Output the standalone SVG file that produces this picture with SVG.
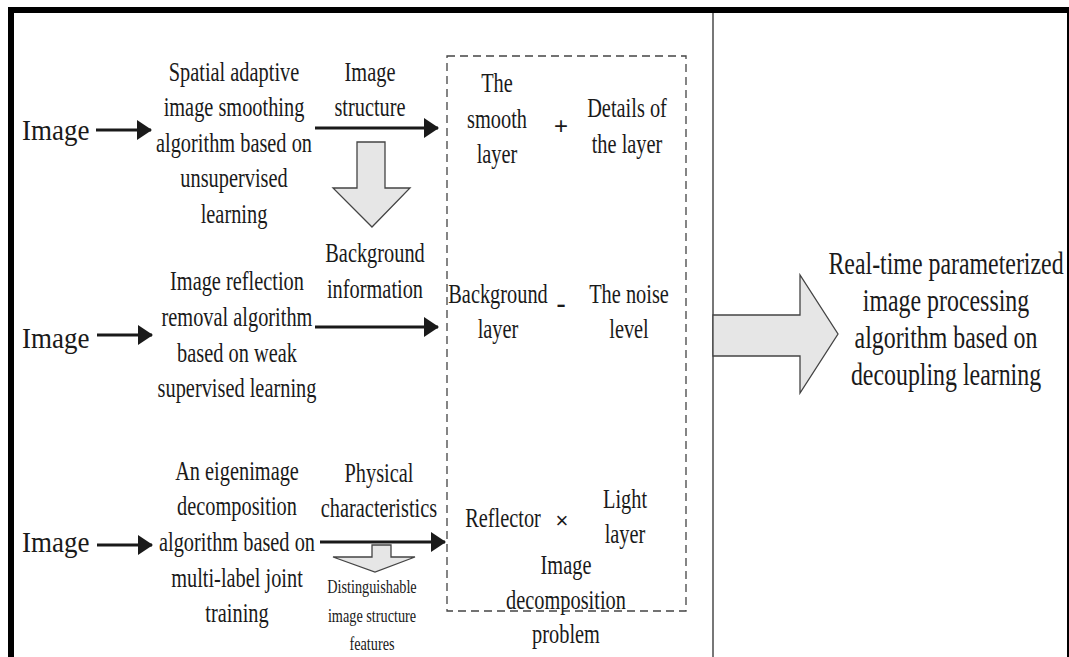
<svg xmlns="http://www.w3.org/2000/svg" width="1069" height="657" viewBox="0 0 1069 657">
<style>
.t{font-family:"Liberation Serif","Times New Roman",serif;font-size:27.5px;fill:#1a1a1a;text-anchor:middle}
.img{font-family:"Liberation Serif","Times New Roman",serif;font-size:30px;fill:#1a1a1a}
.big{font-family:"Liberation Serif","Times New Roman",serif;font-size:31px;fill:#1a1a1a;text-anchor:middle}
.sm{font-family:"Liberation Serif","Times New Roman",serif;font-size:19px;fill:#1a1a1a;text-anchor:middle}
.op{font-family:"Liberation Sans",Arial,sans-serif;font-size:22px;fill:#1a1a1a;text-anchor:middle}
.ln{stroke:#1a1a1a;stroke-width:3;fill:none}
.fat{fill:#e6e6e6;stroke:#444;stroke-width:1.3}
</style>
<defs>
<marker id="ah" markerUnits="userSpaceOnUse" markerWidth="15" markerHeight="20" refX="14" refY="10" orient="auto">
<path d="M0,0 L15,10 L0,20 Z" fill="#1a1a1a"/>
</marker>
</defs>
<rect width="1069" height="657" fill="#fff"/>
<g id="frame">
<rect x="8" y="7" width="1061" height="6" fill="#000"/>
<rect x="8" y="7" width="6" height="650" fill="#000"/>
<rect x="1067" y="7" width="2" height="650" fill="#000"/>
<rect x="712" y="13" width="2" height="644" fill="#777"/>
</g>
<g id="connectors">
<path class="ln" d="M96,130 H151" marker-end="url(#ah)"/>
<path class="ln" d="M97,335 H152" marker-end="url(#ah)"/>
<path class="ln" d="M97,545 H152" marker-end="url(#ah)"/>
<path class="ln" d="M315,128 H438" marker-end="url(#ah)"/>
<path class="ln" d="M315,327 H438" marker-end="url(#ah)"/>
<path class="ln" d="M320,542 H445" marker-end="url(#ah)"/>
<polygon class="fat" points="357,142 385,142 385,188 410,188 372,227 333,188 357,188"/>
<polygon class="fat" points="372,545 391,545 391,557 415,557 375,572 333,557 372,557"/>
<polygon class="fat" points="713,315 800,315 800,275 838,334 800,393 800,356 713,356"/>
</g>
<g id="image1" transform="translate(22 0) scale(0.9 1)"><text class="img" x="0" y="140">Image</text></g>
<g id="image2" transform="translate(22 0) scale(0.9 1)"><text class="img" x="0" y="348">Image</text></g>
<g id="image3" transform="translate(22 0) scale(0.9 1)"><text class="img" x="0" y="552">Image</text></g>
<g id="alg1" transform="translate(234 0) scale(0.74 1)">
<text class="t" x="0" y="81">Spatial adaptive</text>
<text class="t" x="0" y="116">image smoothing</text>
<text class="t" x="0" y="152">algorithm based on</text>
<text class="t" x="0" y="187">unsupervised</text>
<text class="t" x="0" y="223">learning</text>
</g>
<g id="alg2" transform="translate(237 0) scale(0.74 1)">
<text class="t" x="0" y="290">Image reflection</text>
<text class="t" x="0" y="326">removal algorithm</text>
<text class="t" x="0" y="362">based on weak</text>
<text class="t" x="0" y="397">supervised learning</text>
</g>
<g id="alg3" transform="translate(237 0) scale(0.74 1)">
<text class="t" x="0" y="480">An eigenimage</text>
<text class="t" x="0" y="515">decomposition</text>
<text class="t" x="0" y="551">algorithm based on</text>
<text class="t" x="0" y="587">multi-label joint</text>
<text class="t" x="0" y="622">training</text>
</g>
<g id="label-structure" transform="translate(370 0) scale(0.74 1)">
<text class="t" x="0" y="81">Image</text>
<text class="t" x="0" y="116">structure</text>
</g>
<g id="label-background" transform="translate(375 0) scale(0.74 1)">
<text class="t" x="0" y="262">Background</text>
<text class="t" x="0" y="298">information</text>
</g>
<g id="label-physical" transform="translate(379 0) scale(0.74 1)">
<text class="t" x="0" y="482">Physical</text>
<text class="t" x="0" y="517">characteristics</text>
</g>
<g id="label-features" transform="translate(372 0) scale(0.75 1)">
<text class="sm" x="0" y="593">Distinguishable</text>
<text class="sm" x="0" y="622">image structure</text>
<text class="sm" x="0" y="650">features</text>
</g>
<g id="decomposition-box">
<rect x="447" y="56" width="239" height="555" fill="none" stroke="#444" stroke-width="1.3" stroke-dasharray="8 5"/>
<g transform="translate(497 0) scale(0.74 1)">
<text class="t" x="0" y="92">The</text>
<text class="t" x="0" y="128">smooth</text>
<text class="t" x="0" y="163">layer</text>
</g>
<text class="op" x="561" y="134" style="font-size:24px">+</text>
<g transform="translate(627 0) scale(0.74 1)">
<text class="t" x="0" y="117">Details of</text>
<text class="t" x="0" y="153">the layer</text>
</g>
<g transform="translate(498 0) scale(0.74 1)">
<text class="t" x="0" y="303">Background</text>
<text class="t" x="0" y="338">layer</text>
</g>
<text class="t" x="561" y="312" style="font-weight:bold">-</text>
<g transform="translate(629 0) scale(0.74 1)">
<text class="t" x="0" y="303">The noise</text>
<text class="t" x="0" y="338">level</text>
</g>
<g transform="translate(503 0) scale(0.74 1)">
<text class="t" x="0" y="527">Reflector</text>
</g>
<text class="op" x="562" y="528">×</text>
<g transform="translate(625 0) scale(0.74 1)">
<text class="t" x="0" y="508">Light</text>
<text class="t" x="0" y="543">layer</text>
</g>
<g transform="translate(566 0) scale(0.74 1)">
<text class="t" x="0" y="574">Image</text>
<text class="t" x="0" y="609">decomposition</text>
<text class="t" x="0" y="643">problem</text>
</g>
</g>
<g id="result" transform="translate(946 0) scale(0.77 1)">
<text class="big" x="0" y="274">Real-time parameterized</text>
<text class="big" x="0" y="311">image processing</text>
<text class="big" x="0" y="348">algorithm based on</text>
<text class="big" x="0" y="385">decoupling learning</text>
</g>
</svg>
